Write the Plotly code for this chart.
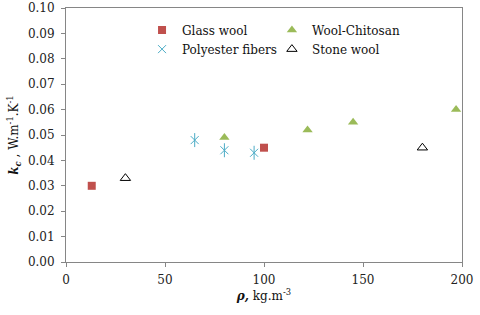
import plotly.graph_objects as go

glass_x = [13, 100]
glass_y = [0.030, 0.045]
chitosan_x = [80, 122, 145, 197]
chitosan_y = [0.049, 0.052, 0.055, 0.060]
poly_x = [65, 80, 95]
poly_y = [0.048, 0.044, 0.043]
stone_x = [30, 180]
stone_y = [0.033, 0.045]

FONT = "DejaVu Serif"
fig = go.Figure()
fig.add_trace(go.Scatter(x=glass_x, y=glass_y, mode="markers", name="Glass wool",
                         marker=dict(symbol="square", size=8, color="#C0504D"), legend="legend"))
fig.add_trace(go.Scatter(x=poly_x, y=poly_y, mode="markers", name="Polyester fibers",
                         marker=dict(symbol="x-thin-open", size=8, color="#4BACC6",
                                     line=dict(width=1, color="#4BACC6")), legend="legend"))
fig.add_trace(go.Scatter(x=poly_x, y=poly_y, mode="markers", showlegend=False,
                         marker=dict(symbol="line-ns-open", size=10, color="#4BACC6",
                                     line=dict(width=1, color="#4BACC6"))))
fig.add_trace(go.Scatter(x=chitosan_x, y=chitosan_y, mode="markers", name="Wool-Chitosan",
                         marker=dict(symbol="triangle-up", size=9, color="#9BBB59"), legend="legend2"))
fig.add_trace(go.Scatter(x=stone_x, y=stone_y, mode="markers", name="Stone wool",
                         marker=dict(symbol="triangle-up-open", size=9, color="#000000",
                                     line=dict(width=1, color="#000000")), legend="legend2"))

axis_common = dict(showline=True, linecolor="#868686", linewidth=1, mirror=True,
                   ticks="outside", ticklen=4, tickcolor="#868686", showgrid=False,
                   zeroline=False, automargin=False,
                   tickfont=dict(family=FONT, size=12, color="#222"))
fig.update_layout(
    width=480, height=315,
    margin=dict(l=66, r=18, t=8, b=53),
    paper_bgcolor="white", plot_bgcolor="white",
    font=dict(family=FONT, size=12, color="#111"),
    xaxis=dict(range=[0, 200], dtick=50, ticklabelstandoff=3, **axis_common,
               title=dict(text="<b><i>ρ,</i></b> kg.m<sup>-3</sup>", standoff=4,
                          font=dict(family=FONT, size=12))),
    yaxis=dict(range=[0, 0.10], dtick=0.01, tickformat=".2f", ticklabelstandoff=4, **axis_common,
               title=dict(text="<b><i>k<sub>c</sub></i></b> , W.m<sup>-1</sup>.K<sup>-1</sup>",
                          standoff=6, font=dict(family=FONT, size=12))),
    legend=dict(x=0.192, y=0.97, xanchor="left", yanchor="top", bgcolor="rgba(0,0,0,0)",
                font=dict(family=FONT, size=12), itemwidth=30, tracegroupgap=0),
    legend2=dict(x=0.52, y=0.97, xanchor="left", yanchor="top", bgcolor="rgba(0,0,0,0)",
                 font=dict(family=FONT, size=12), itemwidth=30, tracegroupgap=0),
)
fig.write_html("out.html", config={"displayModeBar": False},
               post_script="document.body.style.margin='0';document.body.style.padding='0';")
